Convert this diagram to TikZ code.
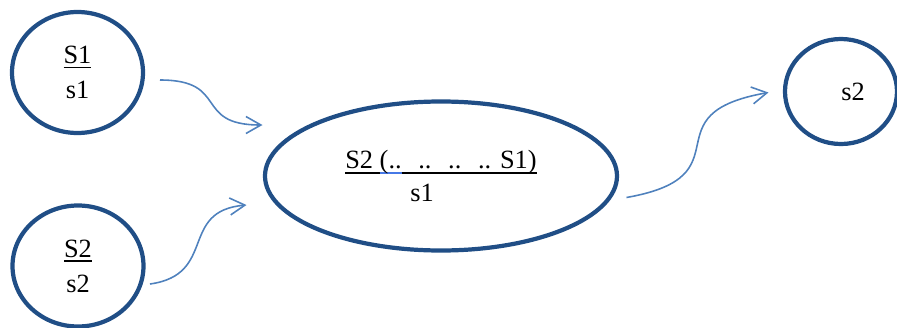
\documentclass[tikz,border=0pt]{standalone}
\usepackage{fontspec}
\setmainfont{Liberation Serif}
\usetikzlibrary{arrows.meta, shapes.geometric}
\definecolor{ringblue}{RGB}{32,78,134}
\definecolor{arrowblue}{RGB}{79,129,189}
\definecolor{markblue}{RGB}{70,120,230}
\newsavebox{\ulnbox}
\newcommand{\uln}[2][black]{\sbox{\ulnbox}{#2}\rlap{\textcolor{#1}{\rule[-2.7pt]{\wd\ulnbox}{0.8pt}}}\usebox{\ulnbox}}
\tikzset{
  ring/.style={ellipse, draw=ringblue, line width=2.4pt, inner sep=0pt,
    align=center, font=\fontsize{15}{20}\selectfont},
  flow/.style={draw=arrowblue, line width=0.9pt,
    -{Straight Barb[length=3mm, width=3.4mm]}}
}
\begin{document}
\begin{tikzpicture}
  \useasboundingbox (0,0) rectangle (17.94,6.54);
  % states on the left
  \node[ring, minimum width=2.62cm, minimum height=2.42cm] (sa) at (1.55,5.09)
    {\uln{S1}\\s1};
  \node[ring, minimum width=2.62cm, minimum height=2.42cm] (sb) at (1.56,1.22)
    {\uln{S2}\\s2};
  % merged state
  \node[ring, align=left, minimum width=7.04cm, minimum height=2.98cm] (mid) at (8.82,3.02)
    {\uln{S2 }\uln[markblue]{(..}\uln{\hspace{9.5pt}..\hspace{9.5pt}..\hspace{9.5pt}.. S1)}\\[-1.5pt]\hspace*{1.3cm}s1};
  % state on the right
  \node[ring, minimum width=2.24cm, minimum height=2.1cm] (sc) at (16.82,4.71)
    {\hspace*{0.48cm}s2};
  % arrow ends
  \coordinate (a1s) at (3.2,4.94);
  \coordinate (a1e) at (5.25,4.04);
  \coordinate (a2s) at (3.0,0.86);
  \coordinate (a2e) at (4.93,2.44);
  \coordinate (a3s) at (12.53,2.59);
  \coordinate (a3e) at (15.37,4.69);
  % arrows
  \draw[flow] (a1s) to[out=0, in=180, looseness=1.6] (a1e);
  \draw[flow] (a2s) to[out=8, in=185, looseness=1.4] (a2e);
  \draw[flow] (a3s) to[out=10, in=190, looseness=1.8] (a3e);
\end{tikzpicture}
\end{document}
